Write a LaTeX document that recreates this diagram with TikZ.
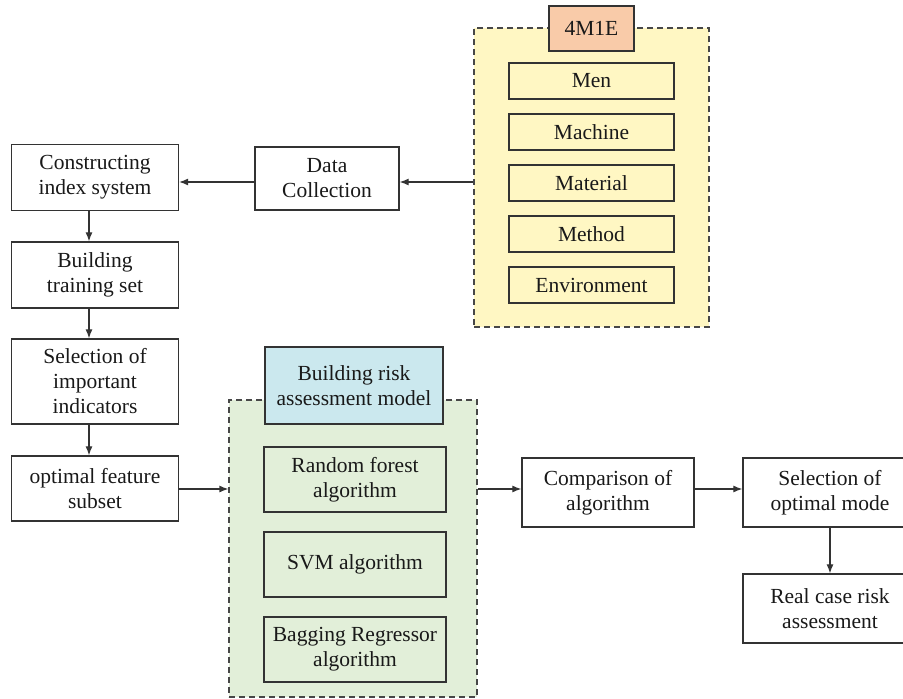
\documentclass[tikz,border=0pt]{standalone}
\usepackage{fontspec}
\setmainfont{Liberation Serif}
\usetikzlibrary{arrows.meta}
\definecolor{lc}{HTML}{333333}
\definecolor{yel}{HTML}{FFF7C3}
\definecolor{sal}{HTML}{F9CBA9}
\definecolor{blu}{HTML}{CBE8EE}
\definecolor{grn}{HTML}{E2EFD9}
\tikzset{
  box/.style={draw=lc, line width=1.3pt, inner sep=0pt, align=center,
    font=\fontsize{21.5}{25}\selectfont, text=black!90},
  grp/.style={draw=lc!90, line width=1.2pt, dashed, dash pattern=on 6pt off 4pt, inner sep=0pt},
  arr/.style={draw=lc, line width=1.2pt, -{Latex[length=9pt,width=7pt]}}
}
\begin{document}
\begin{tikzpicture}[x=1pt,y=-1pt]
\useasboundingbox (0,0) rectangle (903,699);
\clip (0,0) rectangle (903,699);
% 4M1E group
\node[grp, fill=yel, minimum width=235, minimum height=299] (g4) at (591.5,177.5) {};
\node[box, fill=sal, minimum width=85, minimum height=45] (lab4) at (591.5,28.5) {4M1E};
\node[box, fill=yel, minimum width=165, minimum height=36] (men) at (591.5,81) {Men};
\node[box, fill=yel, minimum width=165, minimum height=36] (mac) at (591.5,132) {Machine};
\node[box, fill=yel, minimum width=165, minimum height=36] (mat) at (591.5,183) {Material};
\node[box, fill=yel, minimum width=165, minimum height=36] (met) at (591.5,234) {Method};
\node[box, fill=yel, minimum width=165, minimum height=36] (env) at (591.5,285) {Environment};
% left column
\node[box, minimum width=144, minimum height=63] (dc) at (327,178.5) {Data\\Collection};
\node[box, minimum width=167, minimum height=66] (ci) at (95,177.5) {Constructing\\index system};
\node[box, minimum width=167, minimum height=66] (bt) at (95,275) {Building\\training set};
\node[box, minimum width=167, minimum height=85] (si) at (95,381.5) {Selection of\\important\\indicators};
\node[box, minimum width=167, minimum height=65] (of) at (95,488.5) {optimal feature\\subset};
% green group
\node[grp, fill=grn, minimum width=248, minimum height=297] (gg) at (353,548.5) {};
\node[box, fill=blu, minimum width=178, minimum height=77] (brm) at (354,385.5) {Building risk\\assessment model};
\node[box, fill=grn, minimum width=182, minimum height=65] (rf) at (355,479.5) {Random forest\\algorithm};
\node[box, fill=grn, minimum width=182, minimum height=65] (svm) at (355,564.5) {SVM algorithm};
\node[box, fill=grn, minimum width=182, minimum height=65] (bag) at (355,649.5) {Bagging Regressor\\algorithm};
% right
\node[box, minimum width=172, minimum height=69] (cmp) at (608,492.5) {Comparison of\\algorithm};
\node[box, minimum width=174, minimum height=69] (som) at (830,492.5) {Selection of\\optimal mode};
\node[box, minimum width=174, minimum height=69] (rc) at (830,608.5) {Real case risk\\assessment};
% arrows
\draw[arr] (g4.west |- 0,182) -- (dc.east |- 0,182);
\draw[arr] (dc.west |- 0,182) -- (ci.east |- 0,182);
\draw[arr] ([xshift=-6pt]ci.south) -- ([xshift=-6pt]bt.north);
\draw[arr] ([xshift=-6pt]bt.south) -- ([xshift=-6pt]si.north);
\draw[arr] ([xshift=-6pt]si.south) -- ([xshift=-6pt]of.north);
\draw[arr] (of.east |- 0,489) -- (gg.west |- 0,489);
\draw[arr] (gg.east |- 0,489) -- (cmp.west |- 0,489);
\draw[arr] (cmp.east |- 0,489) -- (som.west |- 0,489);
\draw[arr] (som.south) -- (rc.north);
\end{tikzpicture}
\end{document}
